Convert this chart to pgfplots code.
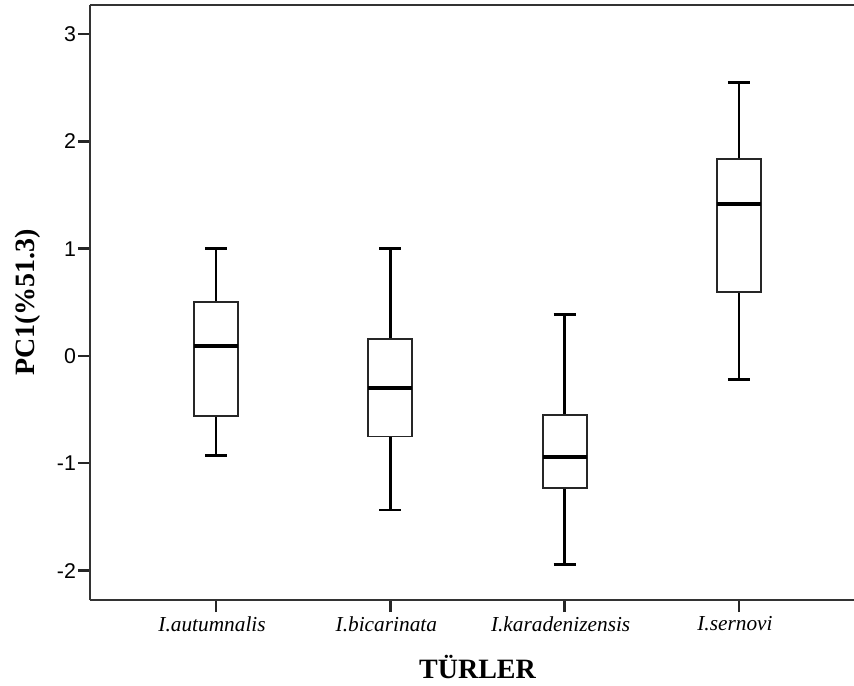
\documentclass[border=0pt]{standalone}
\usepackage{pgfplots}
\pgfplotsset{compat=1.18}
\usepackage{fontspec}
\setmainfont{Liberation Serif}
\setsansfont{Liberation Sans}
\usepgfplotslibrary{statistics}
\begin{document}
\begin{tikzpicture}
\begin{axis}[
  scale only axis,
  width=581.25pt, height=446.25pt,
  xmin=0.277, xmax=4.723,
  ymin=-2.274, ymax=3.271,
  axis lines=left,
  axis line style={-, line width=1.8pt, draw=black!80},
  tick align=outside,
  tick style={line width=1.8pt, draw=black!85},
  major tick length=9pt,
  xtick={1,2,3,4},
  xticklabels={I.autumnalis,I.bicarinata,I.karadenizensis,I.sernovi},
  ytick={-2,-1,0,1,2,3},
  yticklabels={-2,-1,0,1,2,3},
  xticklabel style={font=\fontsize{16}{19}\selectfont\itshape, xshift=-3pt},
  yticklabel style={font=\fontsize{16}{19}\selectfont\sffamily, xshift=2pt},
  every axis x label/.style={at={(rel axis cs:0.5,0)}, anchor=center, yshift=-50.25pt},
  every axis y label/.style={at={(rel axis cs:0,0.5)}, anchor=center, xshift=-47pt, rotate=90},
  xlabel={\fontsize{21}{25}\selectfont\bfseries TÜRLER},
  ylabel={\fontsize{21}{25}\selectfont\bfseries PC1(\%51.3)},
  boxplot/draw direction=y,
  boxplot/every box/.style={draw=black!85, line width=1.4pt, fill=white},
  boxplot/every whisker/.style={draw=black, line width=2.2pt},
  boxplot/every median/.style={draw=black, line width=3pt},
  clip=false,
]
\addplot[boxplot prepared={draw position=1, median=0.096, upper quartile=0.506, lower quartile=-0.56, upper whisker=1.00, lower whisker=-0.93, box extend=0.253, whisker extend=0.126}] coordinates {};
\addplot[boxplot prepared={draw position=2, median=-0.30, upper quartile=0.158, lower quartile=-0.75, upper whisker=1.00, lower whisker=-1.435, box extend=0.253, whisker extend=0.126}] coordinates {};
\addplot[boxplot prepared={draw position=3, median=-0.94, upper quartile=-0.55, lower quartile=-1.23, upper whisker=0.39, lower whisker=-1.94, box extend=0.253, whisker extend=0.126}] coordinates {};
\addplot[boxplot prepared={draw position=4, median=1.42, upper quartile=1.836, lower quartile=0.594, upper whisker=2.55, lower whisker=-0.217, box extend=0.253, whisker extend=0.126}] coordinates {};
\draw[line width=1.8pt, draw=black!80] (rel axis cs:0,1) -- (rel axis cs:1,1);
\end{axis}
\pgfresetboundingbox
\path ([shift={(-67.5pt,-64.5pt)}]current axis.south west) rectangle ([shift={(-8.25pt,3.75pt)}]current axis.north east);
\end{tikzpicture}
\end{document}
